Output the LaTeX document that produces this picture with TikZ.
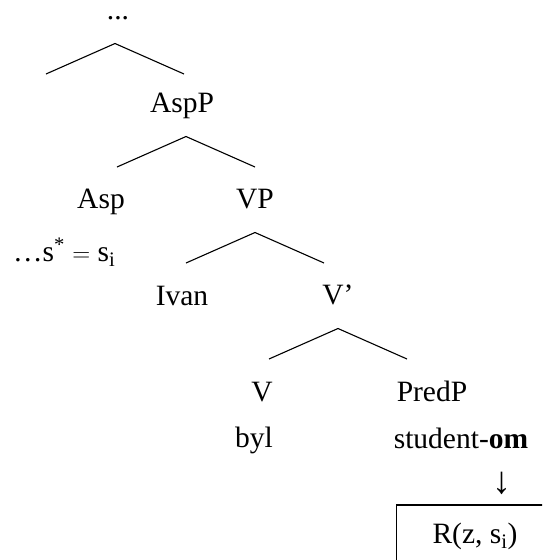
\documentclass[tikz,border=0pt]{standalone}
\usepackage{fontspec}
\setmainfont{Liberation Serif}
\usetikzlibrary{positioning}

\tikzset{
  lbl/.style={inner sep=0pt, anchor=base},
  roof/.style={line width=1.1pt},
}

\begin{document}
\begin{tikzpicture}[x=1pt, y=-1pt, font=\fontsize{29.5}{35}\selectfont]
\useasboundingbox (0,0) rectangle (542,560);
\clip (0,0) rectangle (542,560);

% Draw labels.
\node[lbl, text height=5pt] (top) at (118,19) {...};
\node[lbl] (aspp) at (182,112) {AspP};
\node[lbl] (asp) at (101,208) {Asp};
\node[lbl] (vp) at (255,208) {VP};
\node[lbl, anchor=base west] (sval) at (13,261) {\dots s\textsuperscript{*} $=$ s\textsubscript{i}};
\node[lbl] (ivan) at (182,305) {Ivan};
\node[lbl] (vbar) at (338,304) {V’};
\node[lbl] (v) at (262,401) {V};
\node[lbl] (predp) at (432,401) {PredP};
\node[lbl] (byl) at (254,447) {byl};
\node[lbl] (stud) at (461,448) {student-\textbf{om}};
\node[lbl, font=\fontsize{38}{40}\selectfont] (arr) at (502,493) {↓};

% Draw the relation box.
\node[lbl, draw, line width=1.1pt, inner xsep=36pt, inner ysep=17.5pt, text depth=20pt]
  (rel) at (475,543) {R(z, s\textsubscript{i})};

% Draw roofs under the branching nodes.
\foreach \n/\dx in {top/-3, aspp/4, vp/0, vbar/0}
{
    \coordinate (\n-a) at ([xshift=\dx pt, yshift=-24.5pt]\n.base);
    \coordinate (\n-l) at ([xshift=-69pt, yshift=-30.5pt]\n-a);
    \coordinate (\n-r) at ([xshift=69pt, yshift=-30.5pt]\n-a);
    \draw[roof] (\n-l) -- (\n-a) -- (\n-r);
}

\end{tikzpicture}
\end{document}
